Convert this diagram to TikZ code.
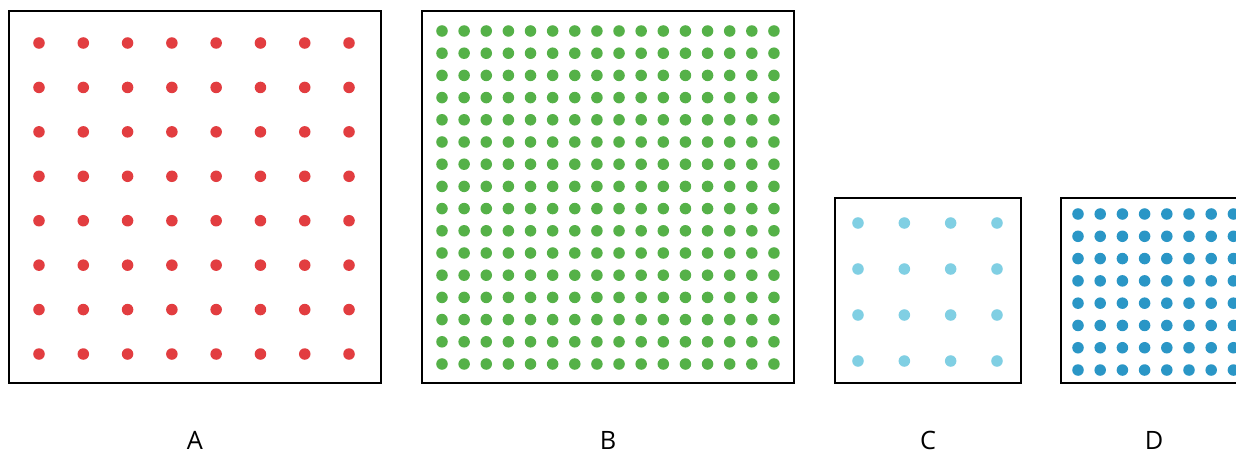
\documentclass[tikz,border=0pt]{standalone}
\usepackage{fontspec}
\setmainfont{Open Sans}
\usetikzlibrary{positioning}
\definecolor{dotred}{HTML}{E23D40}
\definecolor{dotgreen}{HTML}{55B148}
\definecolor{dotsky}{HTML}{80CFE3}
\definecolor{dotblue}{HTML}{2A96C6}
\tikzset{
  panel/.style={draw=black, line width=1.5pt, fill=white},
  lbl/.style={font=\fontsize{18}{20}\selectfont, text=black, inner sep=0pt}
}

\begin{document}
\begin{tikzpicture}[x=0.025cm,y=-0.025cm]
\useasboundingbox (0,0) rectangle (1236,454);
\draw[panel] (9,11) coordinate (boxA) rectangle (381,383);
\draw[panel] (422,11) coordinate (boxB) rectangle (794,383);
\draw[panel] (835,198) coordinate (boxC) rectangle (1021,383);
\draw[panel] (1061,198) coordinate (boxD) rectangle (1247,383);

\foreach \i in {0,...,7}
  \foreach \j in {0,...,7}
    \fill[dotred] ({39+44.29*\i},{43+44.43*\j}) circle (4.1pt);
\foreach \i in {0,...,15}
  \foreach \j in {0,...,15}
    \fill[dotgreen] ({442+22.13*\i},{31+22.2*\j}) circle (4.1pt);
\foreach \i in {0,...,3}
  \foreach \j in {0,...,3}
    \fill[dotsky] ({858+46.33*\i},{223+46*\j}) circle (4.1pt);
\foreach \i in {0,...,7}
  \foreach \j in {0,...,7}
    \fill[dotblue] ({1078+22.2*\i},{214+22.29*\j}) circle (4.1pt);

\node[lbl] (labA) at (195,440) {A};
\node[lbl] (labB) at (608,440) {B};
\node[lbl] (labC) at (928,440) {C};
\node[lbl] (labD) at (1154,440) {D};
\end{tikzpicture}
\end{document}
